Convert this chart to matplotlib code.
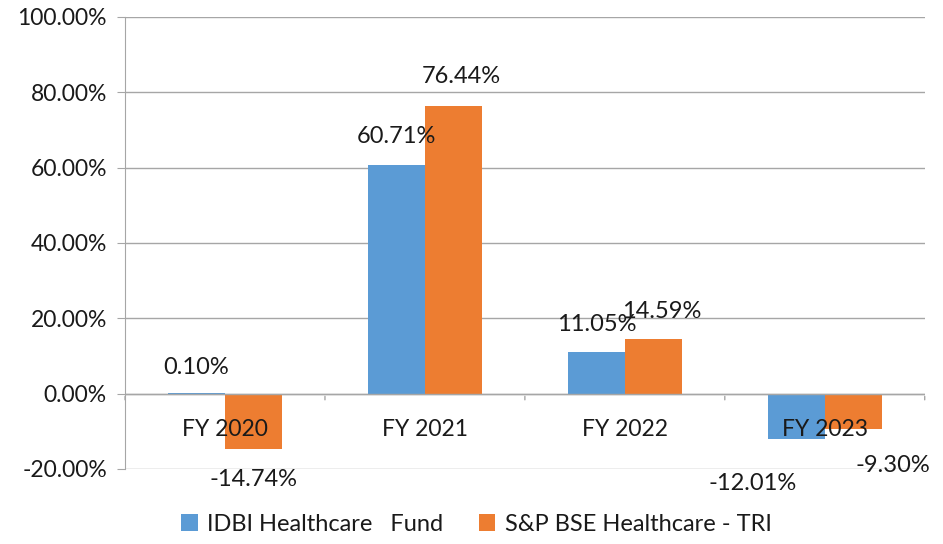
import numpy as np
import matplotlib
matplotlib.use("Agg")
import matplotlib.pyplot as plt

# data
categories = ["FY 2020", "FY 2021", "FY 2022", "FY 2023"]
fund = [0.10, 60.71, 11.05, -12.01]
index_tri = [-14.74, 76.44, 14.59, -9.30]
series_names = ["IDBI Healthcare   Fund", "S&P BSE Healthcare - TRI"]
yticks = [-20, 0, 20, 40, 60, 80, 100]

# label nudges (pixels) as placed in the original
fund_off = [(0, 26), (0, 28), (0, 27), (-44, -45)]
tri_off = [(0, -30), (8, 29), (8, 27), (40, -37)]

plt.rcParams['font.family'] = ['Lato', 'DejaVu Sans']
blue = '#5B9BD5'
orange = '#ED7D31'
grid_c = '#A6A6A6'
txt_c = '#1a1a1a'

fig = plt.figure(figsize=(9.43, 5.44), dpi=100)
ax = fig.add_axes([0.1326, 0.138, 0.848, 0.831])

x = np.arange(len(categories))
w = 0.285
b1 = ax.bar(x - w / 2, fund, w, color=blue, label=series_names[0], zorder=3)
b2 = ax.bar(x + w / 2, index_tri, w, color=orange, label=series_names[1], zorder=3)

ax.set_xlim(-0.5, len(categories) - 0.5)
ax.set_ylim(-20, 100)
ax.set_yticks(yticks)
ax.set_yticklabels([f"{v:.2f}%" for v in yticks], fontsize=16.5, color=txt_c)
ax.tick_params(axis='y', length=6, color=grid_c, pad=7)
ax.yaxis.grid(True, color=grid_c, linewidth=1, zorder=0)
ax.set_axisbelow(True)
for s in ['top', 'right', 'bottom']:
    ax.spines[s].set_visible(False)
ax.spines['left'].set_color(grid_c)

# zero line with category separator ticks
ax.axhline(0, color=grid_c, linewidth=1, zorder=4)
ax.set_xticks([])
for k in range(len(categories) + 1):
    ax.annotate('', xy=(k - 0.5, 0), xycoords='data',
                xytext=(0, -9), textcoords='offset pixels',
                arrowprops=dict(arrowstyle='-', color=grid_c, lw=1))

# category labels next to the zero axis
for xi, c in zip(x, categories):
    ax.text(xi, -9.6, c, ha='center', va='center', fontsize=16.5, color=txt_c, zorder=5)

# data labels
for bars, vals, offs in [(b1, fund, fund_off), (b2, index_tri, tri_off)]:
    for bar, v, (dx, dy) in zip(bars, vals, offs):
        xc = bar.get_x() + bar.get_width() / 2
        ax.annotate(f"{v:.2f}%", xy=(xc, v), xytext=(dx, dy),
                    textcoords='offset pixels', ha='center', va='center',
                    fontsize=17, color=txt_c, zorder=6)

leg = fig.legend(loc='lower center', bbox_to_anchor=(0.505, -0.022), ncol=2,
                 frameon=False, fontsize=17, handlelength=0.7, handleheight=0.7,
                 columnspacing=1.5, handletextpad=0.4)
for t in leg.get_texts():
    t.set_color(txt_c)

fig.savefig('out.png', dpi=100)
